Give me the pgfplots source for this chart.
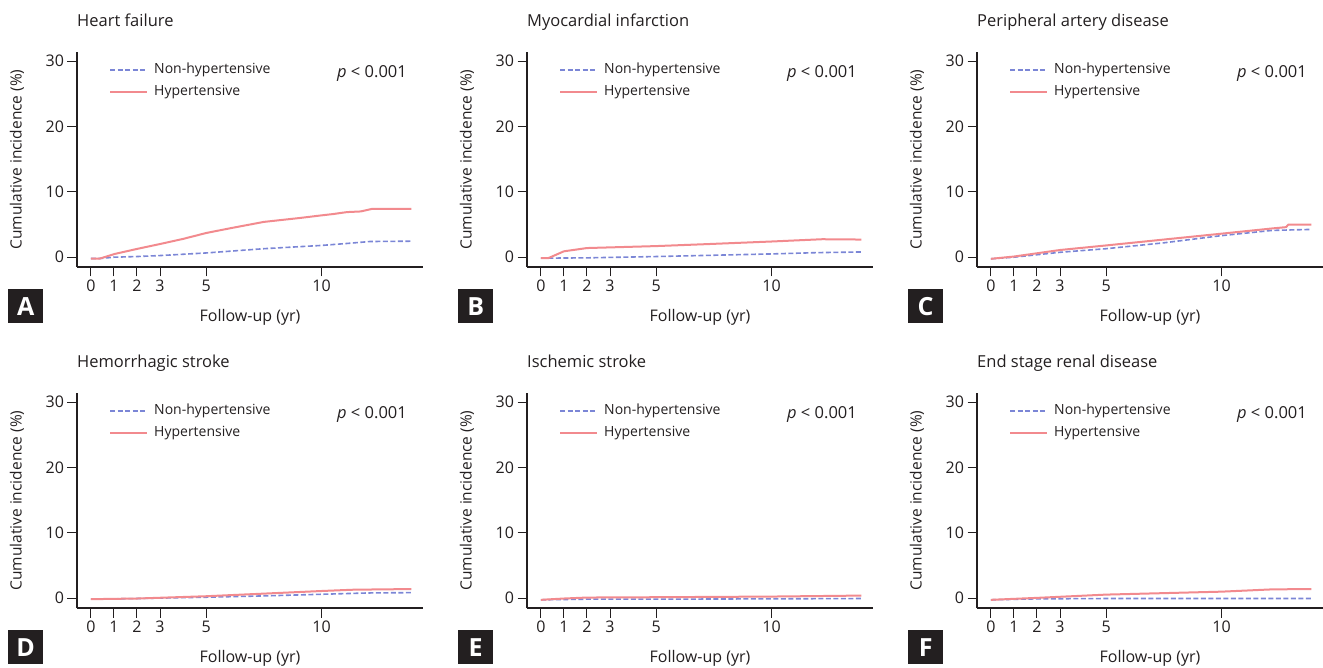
\documentclass[border=0pt]{standalone}
\usepackage{pgfplots}
\pgfplotsset{compat=1.18}
\usepackage{fontspec}
\setmainfont{Open Sans}
\definecolor{ink}{HTML}{231F20}
\definecolor{nonhtn}{HTML}{7B86D6}
\definecolor{htn}{HTML}{F28A8E}
\newcommand\fs[1]{\fontsize{#1}{#1}\selectfont}

\pgfplotsset{
  panel/.style={
    scale only axis, width=346pt, height=215pt,
    anchor=south west,
    xmin=-0.6, xmax=14.4, ymin=-1.5, ymax=31.4,
    axis x line*=bottom, axis y line*=left,
    axis line style={line width=1.1pt, draw=ink},
    xtick={0,1,2,3,5,10}, ytick={0,10,20,30},
    tick align=outside, major tick length=9.5pt,
    tick style={line width=1pt, draw=ink},
    /pgf/number format/assume math mode=true,
    ticklabel style={font=\fs{16}, text=ink},
    xlabel={Follow-up (yr)}, ylabel={Cumulative incidence (\%)},
    every axis x label/.style={at={(axis description cs:0.5,-0.2512)}, anchor=base, font=\fs{16}, text=ink},
    every axis y label/.style={at={(axis description cs:-0.1734,0.5)}, rotate=90, anchor=center, font=\fs{15.5}, text=ink},
    legend image code/.code={\draw[##1] (0pt,0pt) -- (37pt,0pt);},
    legend cell align=left,
    legend style={at={(axis description cs:0,1)}, anchor=north west,
      xshift=32pt, yshift=-10.5pt, draw=none, fill=none, inner sep=0pt,
      font=\fs{14}, text=ink, row sep=7pt,
      nodes={inner sep=0pt, text height=11pt, text depth=4pt},
      /tikz/every odd column/.append style={column sep=6pt}},
  },
  nonh/.style={nonhtn, line width=1.6pt, dash pattern=on 5pt off 2.5pt},
  hyp/.style={htn, line width=2pt},
}
\newcommand\pval{\node[anchor=base east, inner sep=0pt, font=\fs{16.5}, text=ink] at (axis description cs:0.9538,0.8837) {\textit{p} < 0.001};}
\newcommand\panel[4]{%
  \node[anchor=base west, inner sep=0pt, font=\fs{16.5}, text=ink] at (#1pt,#2pt+240pt) {#3};
  \node[fill=ink, text=white, font=\fs{25}\bfseries, minimum width=35pt, minimum height=34pt, inner sep=0pt, anchor=north west] at (#1pt-69pt,#2pt-22pt) {#4};}

\begin{document}
\begin{tikzpicture}
\useasboundingbox (0,0) rectangle (1323pt,667pt);

% A heart failure
\begin{axis}[panel, at={(77pt,400pt)}]
\addplot[nonh] coordinates {(0,-0.2) (0.4,-0.2) (1,0) (2,0.1) (3,0.25) (5,0.65) (7.5,1.3) (10,1.8) (11.1,2.1) (12.1,2.4) (13.9,2.45)};
\addplot[hyp] coordinates {(0,-0.2) (0.4,-0.2) (1.04,0.5) (2.02,1.28) (3.03,2.04) (4,2.8) (5,3.7) (6,4.4) (7.5,5.4) (9.06,6.0) (10,6.4) (10.5,6.6) (11.1,6.9) (11.7,7.0) (12.2,7.4) (13.9,7.4)};
\legend{Non-hypertensive, Hypertensive}
\pval
\end{axis}

% B myocardial infarction
\begin{axis}[panel, at={(527pt,400pt)}]
\addplot[nonh] coordinates {(0,-0.15) (2,-0.1) (5,0.1) (7.5,0.3) (10,0.5) (12,0.7) (13.9,0.8)};
\addplot[hyp] coordinates {(0,-0.15) (0.32,-0.15) (1,0.9) (2,1.4) (3,1.5) (5,1.7) (7.2,2.0) (10,2.4) (12.2,2.75) (13.9,2.7)};
\legend{Non-hypertensive, Hypertensive}
\pval
\end{axis}

% C peripheral artery disease
\begin{axis}[panel, at={(977pt,400pt)}]
\addplot[nonh] coordinates {(0,-0.25) (1,0) (3,0.75) (5,1.3) (7.5,2.2) (10,3.3) (12.2,4.1) (13.9,4.25)};
\addplot[hyp] coordinates {(0,-0.25) (1,0.1) (2,0.6) (3,1.1) (5,1.8) (7.5,2.7) (10,3.6) (12.2,4.4) (12.8,4.6) (12.9,5.0) (13.9,5.0)};
\legend{Non-hypertensive, Hypertensive}
\pval
\end{axis}

% D hemorrhagic stroke
\begin{axis}[panel, at={(77pt,59pt)}]
\addplot[nonh] coordinates {(0,-0.15) (2,-0.05) (5,0.15) (7.5,0.35) (10,0.6) (12,0.8) (13.9,0.85)};
\addplot[hyp] coordinates {(0,-0.15) (2,-0.05) (5,0.3) (7.5,0.7) (10,1.1) (11.4,1.3) (13.9,1.4)};
\legend{Non-hypertensive, Hypertensive}
\pval
\end{axis}

% E ischemic stroke
\begin{axis}[panel, at={(527pt,59pt)}]
\addplot[nonh] coordinates {(0,-0.25) (2,-0.15) (5,-0.15) (10,-0.1) (13.9,-0.05)};
\addplot[hyp] coordinates {(0,-0.25) (1,-0.05) (2,0.1) (5,0.15) (10,0.25) (13.9,0.4)};
\legend{Non-hypertensive, Hypertensive}
\pval
\end{axis}

% F end stage renal disease
\begin{axis}[panel, at={(977pt,59pt)}]
\addplot[nonh] coordinates {(0,-0.25) (2,-0.1) (5,-0.05) (10,-0.05) (13.9,-0.05)};
\addplot[hyp] coordinates {(0,-0.25) (2,0.05) (5,0.55) (10,1.0) (12.2,1.35) (13.9,1.4)};
\legend{Non-hypertensive, Hypertensive}
\pval
\end{axis}

\panel{77}{400}{Heart failure}{A}
\panel{527}{400}{Myocardial infarction}{B}
\panel{977}{400}{Peripheral artery disease}{C}
\panel{77}{59}{Hemorrhagic stroke}{D}
\panel{527}{59}{Ischemic stroke}{E}
\panel{977}{59}{End stage renal disease}{F}
\end{tikzpicture}
\end{document}
